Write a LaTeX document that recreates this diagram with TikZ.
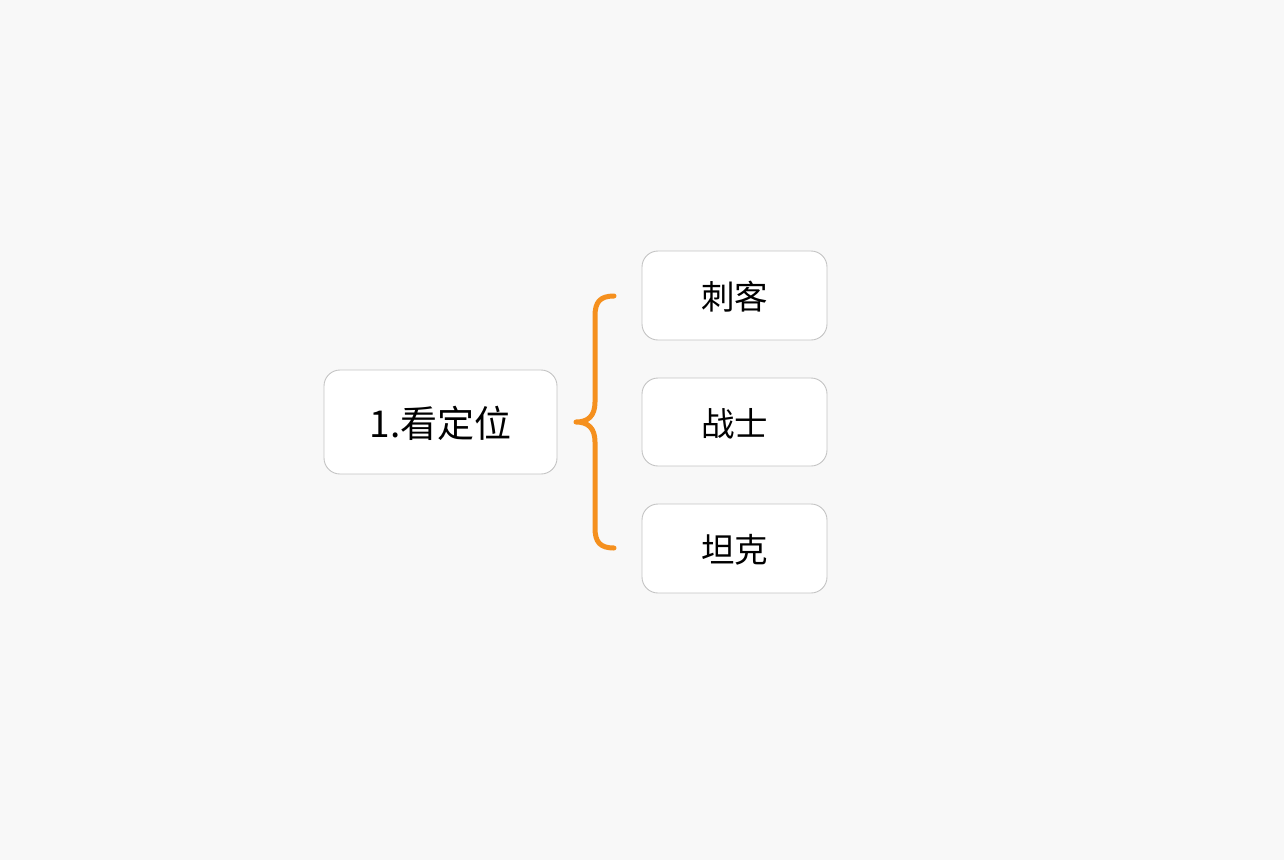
\documentclass[tikz,border=0pt]{standalone}
\usepackage{fontspec}
\newfontfamily\cjk{Noto Sans CJK SC}
\definecolor{bg}{HTML}{F8F8F8}
\definecolor{boxline}{HTML}{C4C4C4}
\definecolor{brace}{HTML}{F5901E}
\begin{document}
\begin{tikzpicture}[x=1pt,y=-1pt,
  box/.style={draw=boxline,line width=0.9pt,fill=white,rounded corners=16pt,inner sep=0pt,font=\cjk\fontsize{33.5}{40}\selectfont,text=black,text depth=0pt},
  bracestyle/.style={draw=brace,line width=5pt,line cap=round,line join=round}]
\fill[bg] (0,0) rectangle (1284,860);
\useasboundingbox (0,0) rectangle (1284,860);
\node[box,minimum width=233pt,minimum height=104pt,font=\cjk\fontsize{37}{44}\selectfont] (root) at (440.5,422) {1.看定位};
\node[box,minimum width=185pt,minimum height=89pt] (a) at (734.5,295.5) {刺客};
\node[box,minimum width=185pt,minimum height=88pt] (b) at (734.5,422) {战士};
\node[box,minimum width=185pt,minimum height=89pt] (c) at (734.5,548.5) {坦克};
\coordinate (top) at (614,296);
\coordinate (tip) at (576,422);
\coordinate (bot) at (614,548);
\path[bracestyle] (top) .. controls (600,296) and (595,302) .. (595,316)
  -- (595,402) .. controls (595,416) and (588,422) .. (tip)
  .. controls (588,422) and (595,428) .. (595,442)
  -- (595,528) .. controls (595,542) and (600,548) .. (bot);
\end{tikzpicture}
\end{document}
